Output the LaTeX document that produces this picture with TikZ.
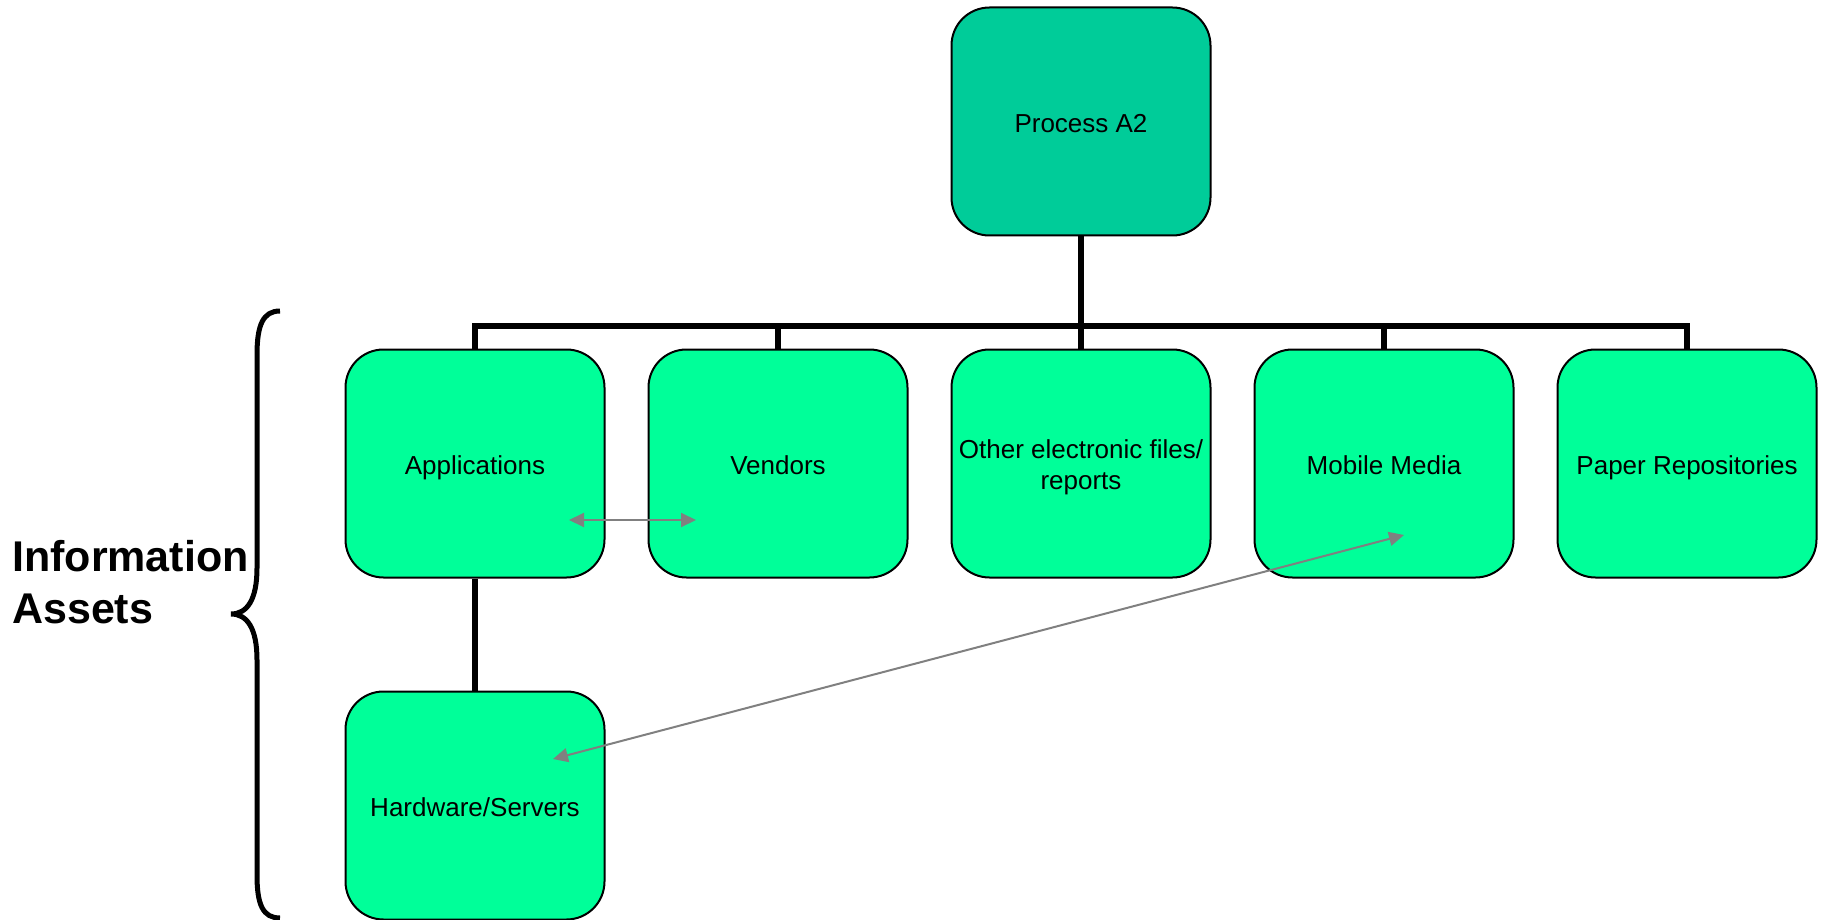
\documentclass[tikz,border=0pt]{standalone}
\usepackage{fontspec}
\setmainfont{Liberation Sans}
\usetikzlibrary{arrows.meta}
\definecolor{procfill}{RGB}{0,204,153}
\definecolor{assetfill}{RGB}{0,255,153}
\definecolor{linkgray}{RGB}{128,128,128}
\tikzset{
  box/.style={draw=black, line width=2pt, rounded corners=38pt,
    minimum width=259pt, minimum height=228pt, inner sep=0pt,
    align=center, font=\fontsize{26}{31}\selectfont, fill=assetfill,
    text height=22.6pt, text depth=0pt},
  twolinebox/.style={box, text height=52.6pt},
  procbox/.style={box, fill=procfill},
  tree/.style={draw=black, line width=5.5pt},
  link/.style={draw=linkgray, line width=2pt,
    {Triangle[length=15pt,width=14pt]}-{Triangle[length=15pt,width=14pt]}},
  bracepath/.style={draw=black, line width=5pt},
  sidelabel/.style={font=\bfseries\fontsize{43}{52}\selectfont, align=left, inner sep=0pt}
}
\begin{document}
\begin{tikzpicture}[x=1pt,y=-1pt]
\useasboundingbox (0,0) rectangle (1824,920);
\node[procbox] (proc) at (1081,121.5) {Process A2};
\node[box] (apps) at (475,463.5) {Applications};
\node[box] (vend) at (778,463.5) {Vendors};
\node[twolinebox] (other) at (1081,463.5) {Other electronic files/\\reports};
\node[box] (mob) at (1384,463.5) {Mobile Media};
\node[box] (paper) at (1687,463.5) {Paper Repositories};
\node[box] (hw) at (475,805.5) {Hardware/Servers};
\coordinate (busY) at (0,326);
% tree connectors
\draw[tree] (apps.north) -- (apps.north |- busY) -- (paper.north |- busY) -- (paper.north);
\draw[tree] (proc.south) -- (other.north);
\draw[tree] (vend.north) -- (vend.north |- busY);
\draw[tree] (mob.north) -- (mob.north |- busY);
\draw[tree] (apps.south) -- (hw.north);
% gray links
\coordinate (appsPt) at (569,520);
\coordinate (vendPt) at (696,520);
\coordinate (hwPt) at (553,759);
\coordinate (mobPt) at (1404,535);
\draw[link] (appsPt) -- (vendPt);
\draw[link] (hwPt) -- (mobPt);
% brace
\draw[bracepath] (280,311) .. controls (263,311) and (257,325) .. (257,355)
  -- (257,568) .. controls (257,600) and (247,614) .. (231,614)
  .. controls (247,614) and (257,628) .. (257,660)
  -- (257,875) .. controls (257,905) and (263,918) .. (280,918);
\node[sidelabel, anchor=west] (label) at (12,582) {Information\\Assets};
\end{tikzpicture}
\end{document}
